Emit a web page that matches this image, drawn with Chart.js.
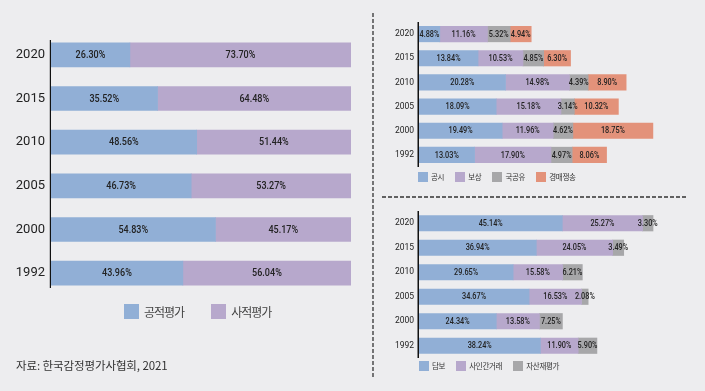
<!DOCTYPE html>
<html><head><meta charset="utf-8">
<script src="https://cdn.jsdelivr.net/npm/chart.js@4/dist/chart.umd.min.js"></script>
<style>
html,body{margin:0;padding:0;background:#ededef;}
#wrap{position:relative;width:705px;height:391px;background:#ededef;overflow:hidden;font-family:"Noto Sans CJK KR","Noto Sans",sans-serif;}
canvas{position:absolute;}
.legend{position:absolute;display:flex;align-items:center;white-space:nowrap;color:#444;}
.legend .it{display:flex;align-items:center;}
.legend .bx{display:inline-block;}
#src{position:absolute;left:16px;top:357px;font-size:11.5px;color:#333;letter-spacing:-0.1px;}
svg{position:absolute;left:0;top:0;}
</style></head>
<body><div id="wrap">
<canvas id="c1" width="360" height="310" style="left:0;top:0"></canvas>
<canvas id="c2" width="310" height="179" style="left:369px;top:0"></canvas>
<canvas id="c3" width="310" height="170" style="left:369px;top:200px"></canvas>
<div class="legend" id="lg1" style="left:124px;top:303px;font-size:12px;letter-spacing:-1px;"></div>
<div class="legend" id="lg2" style="left:418px;top:171px;font-size:7.5px;letter-spacing:-0.3px;color:#333"></div>
<div class="legend" id="lg3" style="left:419px;top:360px;font-size:7.5px;letter-spacing:-0.3px;color:#333"></div>
<div id="src">자료: 한국감정평가사협회, 2021</div>
<svg width="705" height="391">
<line x1="373" y1="13" x2="373" y2="378" stroke="#333" stroke-width="1.3" stroke-dasharray="4 2"/>
<line x1="382" y1="197" x2="687" y2="197" stroke="#333" stroke-width="1.4" stroke-dasharray="4 2"/>
</svg>
</div>
<script>
// ---- data ----
const years = ['2020','2015','2010','2005','2000','1992'];

const leftSeries = ['공적평가','사적평가'];
const publicEval  = [26.30, 35.52, 48.56, 46.73, 54.83, 43.96];
const privateEval = [73.70, 64.48, 51.44, 53.27, 45.17, 56.04];

const topSeries = ['공시','보상','국공유','경매쟁송'];
const gongsi     = [4.88, 13.84, 20.28, 18.09, 19.49, 13.03];
const bosang     = [11.16, 10.53, 14.98, 15.18, 11.96, 17.90];
const gukgongyu  = [5.32, 4.85, 4.39, 3.14, 4.62, 4.97];
const gyeongmae  = [4.94, 6.30, 8.90, 10.32, 18.75, 8.06];

const bottomSeries = ['담보','사인간거래','자산재평가'];
const dambo  = [45.14, 36.94, 29.65, 34.67, 24.34, 38.24];
const sain   = [25.27, 24.05, 15.58, 16.53, 13.58, 11.90];
const jasan  = [3.30, 3.49, 6.21, 2.08, 7.25, 5.90];

// ---- styles ----
const BLUE='#91afd6', PURPLE='#b7a8cc', GRAY='#a7a7a9', SALMON='#e3927a';
const FONT = 'Roboto, "Liberation Sans", sans-serif';

const labelPlugin = {
  id:'segLabels',
  afterDatasetsDraw(chart, args, opts){
    const ctx = chart.ctx;
    chart.data.datasets.forEach((ds,i)=>{
      const meta = chart.getDatasetMeta(i);
      meta.data.forEach((bar,j)=>{
        const v = ds.data[j];
        const cx = (bar.base + bar.x)/2;
        ctx.save();
        ctx.font = '500 ' + opts.size + 'px ' + FONT;
        ctx.fillStyle = opts.color || '#222';
        ctx.textAlign='center'; ctx.textBaseline='middle';
        ctx.translate(cx, bar.y+0.5);
        ctx.scale(opts.sx, 1);
        ctx.fillText(v.toFixed(2)+'%', 0, 0);
        ctx.restore();
      });
    });
  }
};
const axisLinePlugin = {
  id:'axisLine',
  afterDraw(chart, args, opts){
    const a = chart.chartArea, ctx = chart.ctx;
    ctx.save();
    ctx.strokeStyle = opts.color; ctx.lineWidth = opts.width;
    ctx.beginPath();
    const x = a.left - opts.width/2;
    ctx.moveTo(x, a.top + opts.inset);
    ctx.lineTo(x, a.bottom - opts.inset);
    ctx.stroke();
    ctx.restore();
  }
};

function makeChart(id, series, values, colors, cfg){
  const datasets = series.map((name,i)=>({
    label:name, data:values[i], backgroundColor:colors[i], borderWidth:0,
    barThickness:cfg.bar
  }));
  return new Chart(document.getElementById(id), {
    type:'bar',
    data:{labels:years, datasets},
    options:{
      indexAxis:'y', responsive:false, animation:false,
      layout:{padding:cfg.padding},
      plugins:{legend:{display:false}, tooltip:{enabled:false},
        segLabels:{size:cfg.labelSize, sx:cfg.sx, color:'#222'},
        axisLine:{color:'#111', width:cfg.axisW, inset:cfg.inset}},
      scales:{
        x:{stacked:true, min:0, max:cfg.max, display:false},
        y:{stacked:true, grid:{display:false, drawTicks:false}, border:{display:false},
           ticks:{font:{family:FONT, size:cfg.tickSize}, color:'#222', padding:cfg.tickPad},
           afterFit(s){ s.width = cfg.yWidth; }}
      }
    },
    plugins:[labelPlugin, axisLinePlugin]
  });
}

makeChart('c1', leftSeries, [publicEval, privateEval], [BLUE, PURPLE],
  {bar:24, max:100, padding:{top:33,bottom:15,right:9,left:0}, labelSize:11, sx:0.82, tickSize:13, tickPad:6, yWidth:51, axisW:1.2, inset:7});
makeChart('c2', topSeries, [gongsi, bosang, gukgongyu, gyeongmae], [BLUE, PURPLE, GRAY, SALMON],
  {bar:15.5, max:60, padding:{top:22,bottom:12,right:4,left:0}, labelSize:8.5, sx:0.86, tickSize:8.5, tickPad:5, yWidth:50, axisW:1.5, inset:0});
makeChart('c3', bottomSeries, [dambo, sain, jasan], [BLUE, PURPLE, GRAY],
  {bar:15.5, max:80, padding:{top:11,bottom:12,right:6,left:0}, labelSize:8.5, sx:0.86, tickSize:8.5, tickPad:5, yWidth:50, axisW:1.5, inset:0});

function legend(id, series, colors, box, gapText, gapItem){
  const el = document.getElementById(id);
  series.forEach((s,i)=>{
    const it = document.createElement('span'); it.className='it';
    if(i>0) it.style.marginLeft = gapItem+'px';
    const b = document.createElement('span'); b.className='bx';
    b.style.width=box+'px'; b.style.height=box+'px'; b.style.background=colors[i];
    b.style.marginRight=gapText+'px';
    const t = document.createElement('span'); t.textContent = s;
    it.appendChild(b); it.appendChild(t); el.appendChild(it);
  });
}
legend('lg1', leftSeries, [BLUE, PURPLE], 15, 5, 27);
legend('lg2', topSeries, [BLUE, PURPLE, GRAY, SALMON], 10, 3, 11);
legend('lg3', bottomSeries, [BLUE, PURPLE, GRAY], 10, 3, 11);
</script>
</body></html>
